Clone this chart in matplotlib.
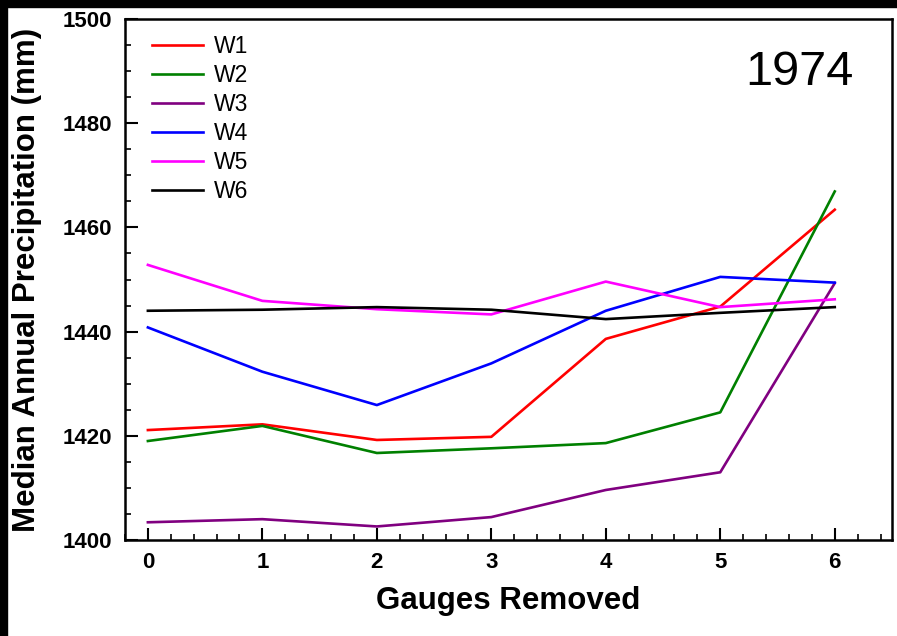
import matplotlib
matplotlib.use('Agg')
from matplotlib import pyplot as plt
from matplotlib.patches import Rectangle
from matplotlib.ticker import MultipleLocator

plt.rcParams['font.family'] = ['Liberation Sans', 'DejaVu Sans']

gauges_removed = [0, 1, 2, 3, 4, 5, 6]
w1 = [1421.1, 1422.2, 1419.2, 1419.8, 1438.6, 1444.8, 1463.4]
w2 = [1419.0, 1421.9, 1416.7, 1417.6, 1418.6, 1424.5, 1466.9]
w3 = [1403.4, 1404.0, 1402.6, 1404.4, 1409.6, 1413.0, 1449.3]
w4 = [1440.8, 1432.3, 1425.9, 1433.9, 1444.0, 1450.5, 1449.4]
w5 = [1452.8, 1445.9, 1444.3, 1443.3, 1449.6, 1444.7, 1446.2]
w6 = [1444.0, 1444.2, 1444.7, 1444.2, 1442.4, 1443.6, 1444.7]
names = ['W1', 'W2', 'W3', 'W4', 'W5', 'W6']
colors = ['#ff0000', '#008000', '#800080', '#0000ff', '#ff00ff', '#000000']
year = '1974'

fig = plt.figure(figsize=(8.97, 6.36), dpi=100)
ax = fig.add_axes([125 / 897, 96 / 636, 767 / 897, 521 / 636])

for vals, name, c in zip([w1, w2, w3, w4, w5, w6], names, colors):
    ax.plot(gauges_removed, vals, color=c, lw=1.9, label=name)

ax.set_xlim(-0.2, 6.5)
ax.set_ylim(1400, 1500)
ax.xaxis.set_major_locator(MultipleLocator(1))
ax.xaxis.set_minor_locator(MultipleLocator(0.2))
ax.yaxis.set_major_locator(MultipleLocator(20))
ax.yaxis.set_minor_locator(MultipleLocator(5))
ax.tick_params(which='both', direction='in', top=False, right=False)
ax.tick_params(which='major', length=9, width=1.5, labelsize=16, pad=9)
ax.tick_params(which='minor', length=4.5, width=1.2)
for lbl in ax.get_xticklabels() + ax.get_yticklabels():
    lbl.set_fontweight('bold')
for sp in ax.spines.values():
    sp.set_linewidth(1.8)

ax.set_xlabel('Gauges Removed', fontsize=22.5, fontweight='bold', labelpad=9)
ax.set_ylabel('Median Annual Precipitation (mm)', fontsize=22.5, fontweight='bold')
ax.yaxis.set_label_coords(-0.108, 0.5)

ax.legend(loc='upper left', bbox_to_anchor=(0.0235, 0.986), borderaxespad=0,
          frameon=False, fontsize=16.5, handlelength=2.2,
          handletextpad=0.5, labelspacing=0.26)
ax.text(0.95, 0.873, year, transform=ax.transAxes, fontsize=35,
        ha='right', va='baseline')

# black strips along top and left edges
fig.patches.append(Rectangle((0, 0), 7 / 897, 1, transform=fig.transFigure,
                             color='black', zorder=10))
fig.patches.append(Rectangle((0, 1 - 7 / 636), 1, 7 / 636, transform=fig.transFigure,
                             color='black', zorder=10))

fig.savefig('out.png', dpi=100)
